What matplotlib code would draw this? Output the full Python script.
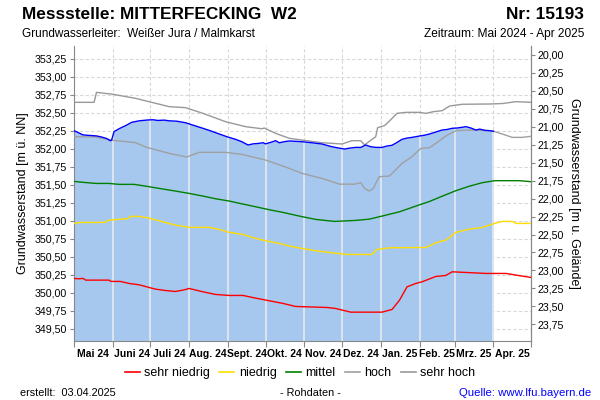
import numpy as np
import matplotlib
matplotlib.use("Agg")
import matplotlib.pyplot as plt
import matplotlib.dates as mdates
from matplotlib.lines import Line2D
from matplotlib.ticker import FixedLocator, FuncFormatter, NullFormatter

plt.rcParams['font.family'] = ['Liberation Sans', 'DejaVu Sans']

# ---------------- data ----------------
start_date = np.datetime64('2024-05-01')
ground_level = 373.31  # m ü. NN (Geländehöhe)

# measured level (days since 2024-05-01, m ü. NN)
meas_days = [0, 3, 7, 10, 14, 18, 22, 26, 29, 30, 32, 36, 42, 46, 52, 59, 63, 67, 72, 76,
             82, 89, 95, 103, 110, 116, 122, 129, 134, 139, 143, 147, 151, 153, 157, 161,
             164, 168, 172, 182, 190, 198, 206, 212, 216, 220, 225, 229, 233, 237, 241,
             246, 250, 254, 258, 262, 266, 270, 276, 280, 284, 290, 294, 298, 302, 306,
             310, 313, 317, 321, 324, 328, 332, 335]
meas_vals = [352.253, 352.23, 352.195, 352.19, 352.185, 352.18, 352.165, 352.145, 352.114,
             352.12, 352.24, 352.28, 352.33, 352.369, 352.39, 352.402, 352.405, 352.395,
             352.40, 352.39, 352.385, 352.364, 352.33, 352.286, 352.245, 352.207, 352.17,
             352.133, 352.10, 352.054, 352.07, 352.075, 352.086, 352.07, 352.09, 352.114,
             352.085, 352.10, 352.11, 352.10, 352.085, 352.068, 352.03, 352.01, 351.998,
             352.01, 352.021, 352.02, 352.054, 352.03, 352.021, 352.02, 352.04, 352.05,
             352.09, 352.133, 352.15, 352.16, 352.179, 352.19, 352.207, 352.24, 352.262,
             352.27, 352.286, 352.29, 352.30, 352.309, 352.29, 352.262, 352.275, 352.258,
             352.253, 352.245]

sh_days = [0, 16, 18, 31, 49, 76, 89, 103, 121, 137, 150, 152, 161, 172, 182, 198, 214,
           222, 229, 232, 241, 242.5, 248, 252, 258, 265, 276, 281, 287, 294, 300, 310,
           332, 342, 353, 365]
sh_vals = [352.647, 352.647, 352.786, 352.759, 352.703, 352.587, 352.573, 352.494, 352.378,
           352.309, 352.28, 352.29, 352.216, 352.147, 352.123, 352.086, 352.068, 352.114,
           352.114, 352.055, 352.17, 352.295, 352.323, 352.388, 352.494, 352.508, 352.508,
           352.494, 352.517, 352.531, 352.596, 352.62, 352.624, 352.63, 352.656, 352.647]

h_days = [0, 17, 31, 49, 58, 76, 90, 100, 121, 134, 153, 172, 182, 198, 212, 224, 229,
          232, 236, 239, 243.7, 252, 262, 270, 277, 284, 289, 297, 305, 316, 332, 336,
          342, 350, 358, 365]
h_vals = [352.17, 352.165, 352.119, 352.088, 352.021, 351.938, 351.887, 351.952, 351.952,
          351.924, 351.845, 351.729, 351.66, 351.59, 351.51, 351.51, 351.53, 351.451,
          351.414, 351.45, 351.613, 351.623, 351.799, 351.892, 352.007, 352.017, 352.077,
          352.179, 352.253, 352.262, 352.253, 352.24, 352.207, 352.16, 352.16, 352.175]

m_days = [0, 8, 17.5, 28, 36, 48, 57, 68, 81, 92, 103, 113, 124, 135, 145, 156, 167, 180,
          193, 208, 225, 236, 246, 260, 273, 284, 295, 305, 316, 326, 336, 356, 365]
m_vals = [351.548, 351.534, 351.52, 351.52, 351.507, 351.507, 351.483, 351.451, 351.414,
          351.381, 351.344, 351.307, 351.275, 351.233, 351.196, 351.154, 351.117, 351.066,
          351.02, 350.992, 351.006, 351.024, 351.066, 351.126, 351.205, 351.27, 351.349,
          351.419, 351.483, 351.53, 351.558, 351.558, 351.544]

n_days = [0, 5, 25, 27, 35, 43, 45, 52, 60, 68, 81, 92, 108, 116, 124, 135, 143, 153, 164,
          172, 182, 193, 206, 218, 238, 242, 252, 281, 289, 297, 305, 316, 326, 336, 342,
          350, 353, 365]
n_vals = [350.964, 350.978, 350.978, 351.006, 351.02, 351.03, 351.062, 351.062, 351.038,
          351.001, 350.941, 350.909, 350.909, 350.881, 350.839, 350.811, 350.765, 350.723,
          350.686, 350.65, 350.617, 350.584, 350.556, 350.533, 350.533, 350.603, 350.626,
          350.63, 350.695, 350.732, 350.839, 350.885, 350.909, 350.964, 350.992, 350.992,
          350.964, 350.964]

sn_days = [0, 4, 7, 9.5, 28, 29.5, 37, 44, 52, 60, 65, 73, 81, 87, 92, 103, 113, 124, 135,
           145, 156, 167, 177, 202, 209, 221, 246, 254, 260, 266, 273, 278, 289, 297, 302,
           310, 329, 345, 358, 365]
sn_vals = [350.199, 350.195, 350.20, 350.176, 350.176, 350.158, 350.158, 350.13, 350.111,
           350.074, 350.051, 350.032, 350.018, 350.037, 350.06, 350.014, 349.977, 349.963,
           349.963, 349.926, 349.889, 349.852, 349.81, 349.796, 349.782, 349.731, 349.731,
           349.768, 349.898, 350.083, 350.13, 350.153, 350.227, 350.241, 350.292, 350.285,
           350.269, 350.269, 350.232, 350.213]

month_labels = ['Mai 24', 'Juni 24', 'Juli 24', 'Aug. 24', 'Sept. 24', 'Okt. 24',
                'Nov. 24', 'Dez. 24', 'Jan. 25', 'Feb. 25', 'Mrz. 25', 'Apr. 25']
left_ticks = [349.50, 349.75, 350.00, 350.25, 350.50, 350.75, 351.00, 351.25, 351.50,
              351.75, 352.00, 352.25, 352.50, 352.75, 353.00, 353.25]
right_ticks = [20.00, 20.25, 20.50, 20.75, 21.00, 21.25, 21.50, 21.75, 22.00, 22.25,
               22.50, 22.75, 23.00, 23.25, 23.50, 23.75]


def to_dates(days):
    return start_date + (np.array(days) * 24).astype('timedelta64[h]')


months = np.arange(np.datetime64('2024-05'), np.datetime64('2025-06'),
                   np.timedelta64(1, 'M')).astype('datetime64[D]')
mid_months = months[:-1] + (months[1:] - months[:-1]) / 2

# ---------------- figure ----------------
fig = plt.figure(figsize=(6, 4), dpi=100)
ax = fig.add_axes([74 / 600, 1 - 341 / 400, (531 - 74) / 600, (341 - 46) / 400])

ymin, ymax = 349.33, 353.43
ax.set_ylim(ymin, ymax)
ax.set_xlim(months[0], months[-1])

# grid (below fill)
for t in left_ticks:
    ax.axhline(t, color='#d8d8d8', lw=0.8, ls=(0, (3, 2)), zorder=0)
for m in months[1:-1]:
    ax.axvline(m, color='#d8d8d8', lw=0.8, ls=(0, (3, 2)), zorder=0)

md = to_dates(meas_days)
ax.fill_between(md, ymin, meas_vals, color='#a6c8ef', lw=0, zorder=1)
# light month separators inside the fill
meas_num = mdates.date2num(md)
for m in months[1:-1]:
    mn = mdates.date2num(m)
    if mn <= meas_num[-1]:
        top = np.interp(mn, meas_num, meas_vals)
        ax.vlines(m, ymin, top, color='#e6e9ec', lw=1.2, zorder=2)

lw = 1.0
ax.plot(to_dates(sh_days), sh_vals, color='#999999', lw=lw, zorder=3)
ax.plot(to_dates(h_days), h_vals, color='#a0a0a0', lw=lw, zorder=3)
ax.plot(to_dates(m_days), m_vals, color='#008000', lw=lw, zorder=3)
ax.plot(to_dates(n_days), n_vals, color='#ffdd00', lw=lw, zorder=3)
ax.plot(to_dates(sn_days), sn_vals, color='#ff0000', lw=lw, zorder=3)
ax.plot(md, meas_vals, color='#0000ff', lw=1.0, zorder=4)

# axes styling
for s in ['left', 'right', 'bottom']:
    ax.spines[s].set_color('#888888')
ax.spines['top'].set_visible(False)

fmt = FuncFormatter(lambda v, p: f"{v:.2f}".replace('.', ','))
ax.yaxis.set_major_locator(FixedLocator(left_ticks))
ax.yaxis.set_major_formatter(fmt)
ax.tick_params(axis='y', labelsize=7.7, length=3, color='#888888', pad=2)

ax.xaxis.set_major_locator(FixedLocator(mdates.date2num(months)))
ax.xaxis.set_major_formatter(NullFormatter())
ax.xaxis.set_minor_locator(FixedLocator(mdates.date2num(mid_months)))
ax.xaxis.set_minor_formatter(FuncFormatter(
    lambda v, p: month_labels[p] if p is not None and p < len(month_labels) else ''))
ax.tick_params(axis='x', which='major', length=4, color='#888888')
ax.tick_params(axis='x', which='minor', length=0, labelsize=7.5, pad=6)
for lab in ax.xaxis.get_minorticklabels():
    lab.set_fontweight('bold')

ax.set_ylabel('Grundwasserstand [m ü. NN]', fontsize=9, labelpad=4)

sec = ax.secondary_yaxis('right', functions=(lambda x: ground_level - x,
                                             lambda x: ground_level - x))
sec.yaxis.set_major_locator(FixedLocator(right_ticks))
sec.yaxis.set_major_formatter(fmt)
sec.tick_params(labelsize=7.7, length=3, color='#888888', pad=2)
sec.spines['right'].set_color('#888888')
sec.set_ylabel('Grundwasserstand [m u. Gelände]', fontsize=9, rotation=270,
               labelpad=11)

# titles
fig.text(22 / 600, 1 - 19 / 400, 'Messstelle: MITTERFECKING  W2', fontsize=12.4,
         fontweight='bold', ha='left', va='baseline')
fig.text(584 / 600, 1 - 19 / 400, 'Nr: 15193', fontsize=12.4, fontweight='bold',
         ha='right', va='baseline')
fig.text(22 / 600, 1 - 37 / 400, 'Grundwasserleiter:  Weißer Jura / Malmkarst',
         fontsize=8.5, ha='left', va='baseline')
fig.text(584 / 600, 1 - 37 / 400, 'Zeitraum: Mai 2024 - Apr 2025', fontsize=8.6,
         ha='right', va='baseline')

# legend
handles = [Line2D([], [], color='#ff0000', lw=1.2),
           Line2D([], [], color='#ffdd00', lw=1.2),
           Line2D([], [], color='#008000', lw=1.2),
           Line2D([], [], color='#a0a0a0', lw=1.2),
           Line2D([], [], color='#999999', lw=1.2)]
fig.legend(handles, ['sehr niedrig', 'niedrig', 'mittel', 'hoch', 'sehr hoch'],
           loc='center', bbox_to_anchor=(300 / 600, 1 - 373 / 400), ncol=5,
           frameon=False, fontsize=9, handlelength=1.2, handletextpad=0.35,
           columnspacing=0.75)

# footer
fig.text(20 / 600, 1 - 396 / 400, 'erstellt:  03.04.2025', fontsize=7.8,
         ha='left', va='baseline')
fig.text(310 / 600, 1 - 396 / 400, '- Rohdaten -', fontsize=7.8, ha='center',
         va='baseline')
fig.text(591 / 600, 1 - 396 / 400, 'Quelle: www.lfu.bayern.de', fontsize=8.2,
         ha='right', va='baseline', color='#0000ff')

fig.savefig('out.png', dpi=100)
